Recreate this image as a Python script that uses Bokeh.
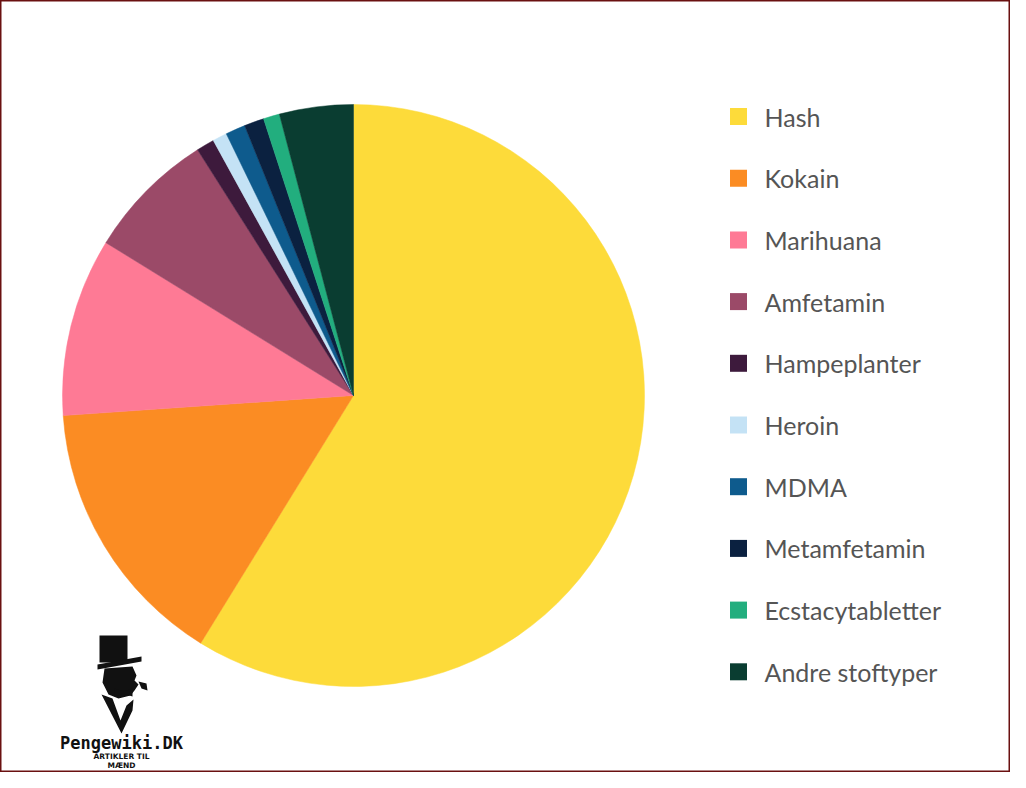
from bokeh.plotting import figure
from bokeh.models import Range1d, ColumnDataSource
from bokeh.core.properties import value
from bokeh.embed import file_html
from bokeh.resources import INLINE
import math

categories = ["Hash", "Kokain", "Marihuana", "Amfetamin", "Hampeplanter",
              "Heroin", "MDMA", "Metamfetamin", "Ecstacytabletter", "Andre stoftyper"]
shares = [58.8, 15.1, 9.9, 7.2, 1.0, 0.8, 1.1, 1.1, 0.9, 4.1]
colors = ["#FDDB3A", "#FB8C23", "#FE7A95", "#9B4A68", "#3D1A3C",
          "#C4E2F5", "#0E5B8D", "#0B2140", "#22AE7E", "#0A3D31"]

W, H = 1010, 772
p = figure(width=W, height=H, output_backend="svg", toolbar_location=None,
           x_range=Range1d(0, W), y_range=Range1d(788 - H, 788),
           min_border=0, border_fill_color="white", background_fill_color="white")
p.axis.visible = False
p.grid.visible = False
p.outline_line_color = "#6a1010"
p.outline_line_width = 2

# screen y -> data y
def sy(y):
    return 788 - y

cx, cy, r = 353, sy(395), 291
total = sum(shares)
starts, ends = [], []
cum = 0.0
for s in shares:
    a0 = math.pi / 2 - 2 * math.pi * cum / total
    cum += s
    a1 = math.pi / 2 - 2 * math.pi * cum / total
    starts.append(a0)
    ends.append(a1)

src = ColumnDataSource(dict(cat=categories, val=shares, color=colors,
                            start=starts, end=ends))
p.wedge(x=cx, y=cy, radius=r, start_angle="start", end_angle="end",
        direction="clock", fill_color="color", line_color="color",
        line_width=0.5, source=src)

# legend
lx, ly0, step = 738, 116, 61.7
leg = ColumnDataSource(dict(
    x=[lx] * len(categories),
    y=[sy(ly0 + i * step) for i in range(len(categories))],
    tx=[764] * len(categories),
    cat=categories, color=colors))
p.scatter(x="x", y="y", size=17, marker="square", fill_color="color",
          line_color=None, source=leg)
p.text(x="tx", y="y", text="cat", text_baseline="middle", text_align="left",
       text_font=value("Lato"), text_font_size="25px", text_color="#555555",
       source=leg)

# logo (decoration)
blk = "#111111"
p.quad(left=[99], right=[127], top=[sy(635)], bottom=[sy(662)], fill_color=blk, line_color=None)
p.patch(x=[97, 141, 141, 97], y=[sy(664), sy(656), sy(661), sy(669)], fill_color=blk, line_color=None)
p.patch(x=[104, 132, 136, 134, 138, 134, 130, 118, 108, 102],
        y=[sy(668), sy(666), sy(675), sy(680), sy(684), sy(690), sy(695), sy(698), sy(694), sy(682)],
        fill_color=blk, line_color=None)
p.patch(x=[138, 146, 147, 141], y=[sy(681), sy(683), sy(690), sy(688)], fill_color=blk, line_color=None)
p.patch(x=[114, 123, 132, 132, 123, 114], y=[sy(688), sy(691), sy(688), sy(696), sy(693), sy(696)],
        fill_color=blk, line_color=None)
p.patch(x=[101, 112, 120, 126, 133, 132, 121],
        y=[sy(694), sy(698), sy(720), sy(705), sy(699), sy(710), sy(733)],
        fill_color=blk, line_color=None)
p.text(x=[121], y=[sy(742)], text=["Pengewiki.DK"], text_align="center", text_baseline="middle",
       text_font=value("DejaVu Sans Mono"), text_font_style="bold", text_font_size="17px",
       text_color=blk)
p.text(x=[121, 121], y=[sy(756), sy(765)], text=["ARTIKLER TIL", "MÆND"],
       text_align="center", text_baseline="middle",
       text_font=value("DejaVu Sans"), text_font_style="bold", text_font_size="7.5px",
       text_color=blk)

open("out.html", "w").write(file_html(p, INLINE))
